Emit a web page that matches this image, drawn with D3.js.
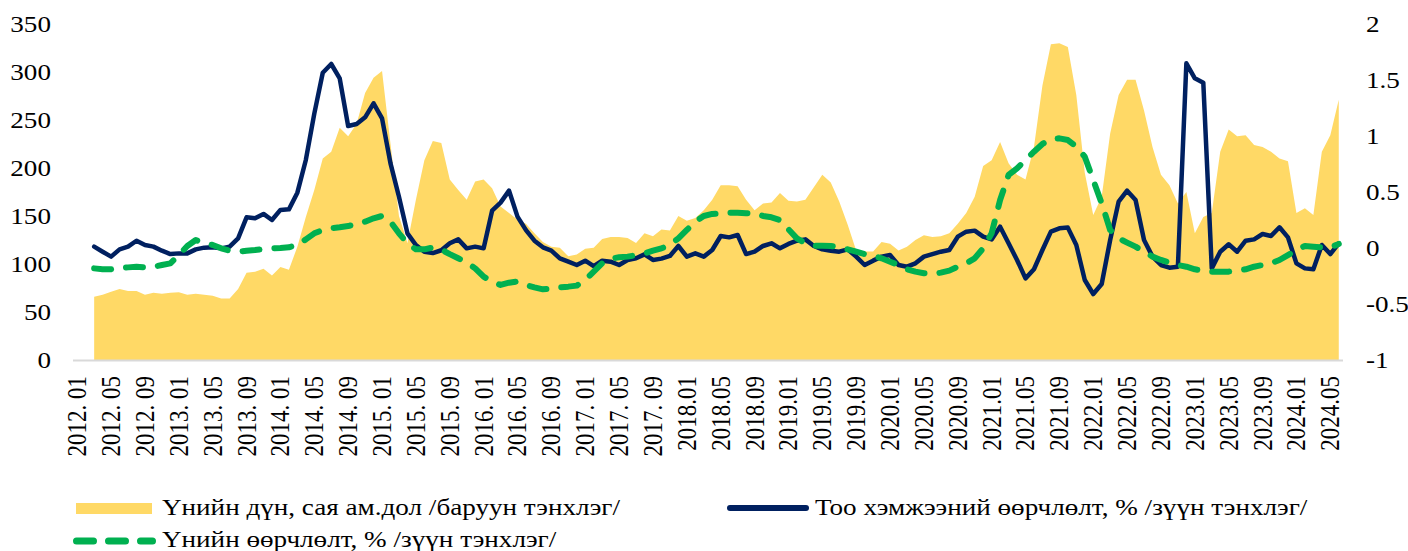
<!DOCTYPE html>
<html>
<head>
<meta charset="utf-8">
<script src="https://cdn.jsdelivr.net/npm/d3@7"></script>
<style>
  body { margin: 0; background: #fff; }
  text { font-family: "Liberation Serif", "Times New Roman", serif; fill: #000; }
</style>
</head>
<body>
<div id="chart"></div>
<script>
// months 2012.01 - 2024.06, data starts 2012.03
var years = [2012, 2013, 2014, 2015, 2016, 2017, 2018, 2019, 2020, 2021, 2022, 2023, 2024];
var monthNums = ["01","02","03","04","05","06","07","08","09","10","11","12"];
var months = [];
years.forEach(function(y) {
  monthNums.forEach(function(m) {
    if (y == 2024 && +m > 6) return;
    months.push(y + "-" + m);
  });
});

var tickLabels = ["2012. 01","2012. 05","2012. 09","2013. 01","2013. 05","2013. 09",
  "2014. 01","2014. 05","2014. 09","2015. 01","2015. 05","2015. 09",
  "2016. 01","2016. 05","2016. 09","2017. 01","2017. 05","2017. 09",
  "2018.01","2018.05","2018.09","2019.01","2019.05","2019.09",
  "2020.01","2020.05","2020.09","2021.01","2021.05","2021.09",
  "2022.01","2022.05","2022.09","2023.01","2023.05","2023.09",
  "2024.01","2024.05"];

// Үнийн дүн, сая ам.дол (left scale)
var valueUsd = [null, null,
  66, 68, 71, 74, 72, 72, 68, 70, 69, 70,
  70.5, 68, 69, 68, 67, 64, 64, 74, 91, 92, 95, 88,
  97, 94, 118, 149, 177, 210, 217, 242, 233, 246, 278, 294,
  301, 225, 150, 122, 167, 208, 228, 226, 188, 177, 167, 186,
  188, 179, 160, 153, 146, 142, 132, 123, 118, 117, 108, 110,
  116, 117, 126, 128, 128, 127, 122, 132, 129, 136, 135, 150,
  145, 148, 156, 167, 182, 182, 181, 167, 156, 163, 164, 174,
  166, 165, 167, 180, 193, 185, 165, 141, 114, 113, 113, 123,
  121, 114, 118, 125, 130, 128, 129, 132, 142, 153, 170, 202,
  208, 227, 205, 193, 188, 222, 286, 329, 330, 326, 276, 195,
  151, 170, 236, 276, 292, 292, 260, 222, 193, 182, 163, 175,
  132, 149, 153, 217, 240, 233, 234, 224, 222, 217, 210, 207,
  153, 158, 151, 217, 234, 271];

// Тоо хэмжээний өөрчлөлт, % (right scale)
var qtyChange = [null, null,
  0.012, -0.033, -0.077, -0.012, 0.012, 0.065, 0.027, 0.012, -0.024, -0.054,
  -0.048, -0.048, -0.012, 0.003, 0.006, -0.003, 0.012, 0.086, 0.274, 0.265, 0.304, 0.25,
  0.34, 0.345, 0.494, 0.786, 1.2, 1.565, 1.643, 1.515, 1.089, 1.107, 1.167, 1.292,
  1.158, 0.756, 0.458, 0.131, 0.027, -0.033, -0.045, -0.02, 0.042, 0.077, -0.003, 0.012,
  -0.003, 0.333, 0.405, 0.512, 0.28, 0.16, 0.065, 0.006, -0.024, -0.092, -0.122, -0.152,
  -0.113, -0.161, -0.113, -0.122, -0.152, -0.107, -0.092, -0.057, -0.107, -0.095, -0.071, 0.018,
  -0.077, -0.048, -0.077, -0.018, 0.107, 0.095, 0.116, -0.054, -0.033, 0.018, 0.042, -0.003,
  0.036, 0.065, 0.077, 0.018, -0.012, -0.024, -0.033, -0.012, -0.077, -0.152, -0.113, -0.077,
  -0.063, -0.152, -0.167, -0.137, -0.077, -0.054, -0.033, -0.018, 0.101, 0.146, 0.155, 0.101,
  0.077, 0.19, 0.042, -0.107, -0.271, -0.19, -0.018, 0.146, 0.176, 0.182, 0.027, -0.286,
  -0.411, -0.321, 0.071, 0.414, 0.512, 0.429, 0.071, -0.077, -0.152, -0.176, -0.167, 1.649,
  1.515, 1.476, -0.182, -0.033, 0.033, -0.033, 0.065, 0.077, 0.125, 0.107, 0.185, 0.095,
  -0.137, -0.182, -0.19, 0.027, -0.054, 0.042];

// Үнийн өөрчлөлт, % (right scale)
var priceChange = [null, null,
  -0.182, -0.19, -0.19, -0.176, -0.173, -0.167, -0.173, -0.167, -0.152, -0.137,
  -0.063, 0.018, 0.071, 0.042, 0.027, -0.003, -0.024, -0.033, -0.024, -0.018, -0.009, -0.003,
  0, 0.006, 0.027, 0.077, 0.131, 0.161, 0.176, 0.185, 0.196, 0.214, 0.235, 0.265,
  0.286, 0.235, 0.131, 0.042, -0.012, -0.012, 0.005, -0.015, -0.055, -0.092, -0.13, -0.182,
  -0.256, -0.3, -0.33, -0.31, -0.3, -0.33, -0.351, -0.369, -0.363, -0.351, -0.345, -0.336,
  -0.286, -0.211, -0.137, -0.095, -0.083, -0.077, -0.065, -0.048, -0.024, -0.003, 0.027, 0.086,
  0.161, 0.235, 0.286, 0.304, 0.31, 0.315, 0.315, 0.31, 0.31, 0.286, 0.274, 0.25,
  0.167, 0.086, 0.042, 0.021, 0.021, 0.018, 0.006, -0.012, -0.033, -0.054, -0.071, -0.092,
  -0.122, -0.152, -0.19, -0.211, -0.226, -0.232, -0.22, -0.202, -0.167, -0.137, -0.092, -0.003,
  0.131, 0.429, 0.652, 0.711, 0.786, 0.86, 0.929, 0.97, 0.979, 0.964, 0.905, 0.815,
  0.607, 0.399, 0.161, 0.086, 0.048, 0.012, -0.033, -0.077, -0.107, -0.131, -0.152, -0.167,
  -0.19, -0.202, -0.211, -0.211, -0.211, -0.202, -0.19, -0.167, -0.152, -0.137, -0.107, -0.063,
  -0.018, 0.018, 0.012, 0.006, 0.006, 0.036];

var legendNames = ["Үнийн дүн, сая ам.дол /баруун тэнхлэг/",
                   "Тоо хэмжээний өөрчлөлт, % /зүүн тэнхлэг/",
                   "Үнийн өөрчлөлт, % /зүүн тэнхлэг/"];

var width = 1408, height = 551;
var sx = 1.18; // text in the picture is a bit wide

var svg = d3.select("#chart").append("svg")
    .attr("width", width)
    .attr("height", height);

var x = d3.scaleBand()
    .domain(months)
    .range([73, 1343]);
var bw = x.bandwidth();
var cx = function(m) { return x(m) + bw / 2; };

var yL = d3.scaleLinear().domain([0, 350]).range([360, 24]);
var yR = d3.scaleLinear().domain([-1, 2]).range([360, 24]);

var rows = months.map(function(m, i) {
  return { m: m, v: valueUsd[i], q: qtyChange[i], p: priceChange[i] };
});

// area
var area = d3.area()
    .defined(function(d) { return d.v != null; })
    .x(function(d) { return cx(d.m); })
    .y0(yL(0))
    .y1(function(d) { return yL(d.v); });

svg.append("path")
    .attr("d", area(rows))
    .attr("fill", "#FFD966");

// x axis line
svg.append("line")
    .attr("x1", 73).attr("x2", 1343)
    .attr("y1", 360.5).attr("y2", 360.5)
    .attr("stroke", "#d9d9d9")
    .attr("stroke-width", 2);

var qtyLine = d3.line()
    .defined(function(d) { return d.q != null; })
    .x(function(d) { return cx(d.m); })
    .y(function(d) { return yR(d.q); });

var priceLine = d3.line()
    .defined(function(d) { return d.p != null; })
    .x(function(d) { return cx(d.m); })
    .y(function(d) { return yR(d.p); });

svg.append("path")
    .attr("d", qtyLine(rows))
    .attr("fill", "none")
    .attr("stroke", "#002060")
    .attr("stroke-width", 4.5)
    .attr("stroke-linejoin", "round")
    .attr("stroke-linecap", "round");

svg.append("path")
    .attr("d", priceLine(rows))
    .attr("fill", "none")
    .attr("stroke", "#00B050")
    .attr("stroke-width", 6)
    .attr("stroke-dasharray", "17,15")
    .attr("stroke-linejoin", "round")
    .attr("stroke-linecap", "round");

// axes ---------------------------------------------------------------
var gl = svg.append("g")
    .attr("transform", "translate(73,0)")
    .call(d3.axisLeft(yL).tickValues(d3.range(0, 351, 50)).tickSize(0).tickPadding(0));
gl.select(".domain").remove();
gl.selectAll("text")
    .attr("x", -22 / sx)
    .attr("transform", "scale(" + sx + ",1)")
    .style("font-size", "23px")
    .style("font-family", null);

var gr = svg.append("g")
    .attr("transform", "translate(1343,0)")
    .call(d3.axisRight(yR).tickValues([-1, -0.5, 0, 0.5, 1, 1.5, 2])
      .tickFormat(function(d) { return String(d); })
      .tickSize(0).tickPadding(0));
gr.select(".domain").remove();
gr.selectAll("text")
    .attr("x", 23 / sx)
    .attr("transform", "scale(" + sx + ",1)")
    .style("font-size", "23px")
    .style("font-family", null);

var tickKeys = months.filter(function(m, i) { return i % 4 == 0; });
var gb = svg.append("g")
    .attr("transform", "translate(0,360)")
    .call(d3.axisBottom(x).tickValues(tickKeys)
      .tickFormat(function(d, i) { return tickLabels[i]; })
      .tickSize(0));
gb.select(".domain").remove();
gb.selectAll("text")
    .attr("transform", "scale(" + sx + ",1) rotate(-90)")
    .attr("text-anchor", "end")
    .attr("x", -16)
    .attr("y", 0)
    .attr("dy", "0.33em")
    .style("font-size", "23px")
    .style("font-family", null);

// legend -------------------------------------------------------------
var legend = svg.append("g");

legend.append("rect")
    .attr("x", 76).attr("y", 503)
    .attr("width", 76).attr("height", 11)
    .attr("fill", "#FFD966");

legend.append("line")
    .attr("x1", 730).attr("x2", 806)
    .attr("y1", 508).attr("y2", 508)
    .attr("stroke", "#002060")
    .attr("stroke-width", 6)
    .attr("stroke-linecap", "round");

legend.append("line")
    .attr("x1", 76.5).attr("x2", 152.5)
    .attr("y1", 541).attr("y2", 541)
    .attr("stroke", "#00B050")
    .attr("stroke-width", 7)
    .attr("stroke-dasharray", "17,15")
    .attr("stroke-linecap", "round");

var legendPos = [[162, 507.5], [815, 507], [162, 539]];
legend.selectAll("text.leg")
    .data(legendNames)
  .enter().append("text")
    .attr("class", "leg")
    .attr("transform", function(d, i) {
      return "translate(" + legendPos[i][0] + "," + legendPos[i][1] + ") scale(" + sx + ",1)";
    })
    .attr("dy", "0.33em")
    .style("font-size", "23px")
    .text(function(d) { return d; });
</script>
</body>
</html>
